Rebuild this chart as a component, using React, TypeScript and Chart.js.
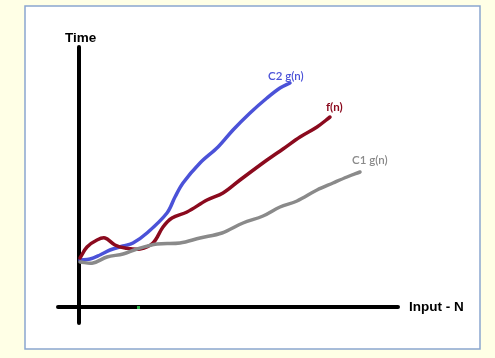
import React, { useEffect, useRef } from "react";
import { Chart, registerables } from "chart.js";

Chart.register(...registerables);

// Values are in chart units measured from the origin (where the axes cross)
const c2gX = [1, 11, 21, 31, 44, 54, 68, 88, 96, 104, 121, 139, 154, 171, 188, 201, 211];
const c2gY = [47, 48, 52, 57, 61, 64, 74, 94, 110, 124, 144, 160, 177, 194, 209, 219, 224];

const fX = [1, 8, 18, 26, 36, 46, 61, 74, 84, 93, 108, 128, 144, 161, 188, 204, 221, 238, 251];
const fY = [49, 60, 67, 69, 62, 59, 58, 64, 80, 89, 95, 107, 114, 127, 147, 158, 170, 180, 190];

const c1gX = [1, 14, 28, 44, 58, 78, 101, 121, 143, 164, 184, 201, 218, 238, 254, 268, 281];
const c1gY = [45, 44, 50, 53, 58, 63, 64, 69, 74, 84, 91, 100, 106, 117, 124, 130, 135];

const seriesNames = ["C2 g(n)", "f(n)", "C1 g(n)"];
const seriesColors = ["#4b52d8", "#8b0a1e", "#8a8a8a"];
const seriesBold = [false, true, false];
// label anchor points (chart units)
const labelX = [189, 247, 273];
const labelY = [231, 200, 147];

const axisTitleX = "Input - N";
const axisTitleY = "Time";
const xAxisExtent = [-21, 319];
const yAxisExtent = [-16, 260];

const W = 495;
const H = 358;

export default function App() {
  const ref = useRef<HTMLCanvasElement | null>(null);

  useEffect(() => {
    const canvas = ref.current;
    if (!canvas) return;

    const toPts = (xs: number[], ys: number[]) => xs.map((x, i) => ({ x, y: ys[i] }));

    const framePlugin = {
      id: "frame",
      beforeDraw(chart: any) {
        const ctx = chart.ctx;
        ctx.save();
        ctx.fillStyle = "#ffffe6";
        ctx.fillRect(0, 0, W, H);
        ctx.fillStyle = "#ffffff";
        ctx.fillRect(25, 6, 455, 343);
        ctx.strokeStyle = "#8aa6cf";
        ctx.lineWidth = 1.5;
        ctx.strokeRect(25, 6, 455, 343);

        const xs = chart.scales.x;
        const ys = chart.scales.y;
        const ox = xs.getPixelForValue(0);
        const oy = ys.getPixelForValue(0);
        ctx.strokeStyle = "#000000";
        ctx.lineWidth = 4;
        ctx.lineCap = "round";
        ctx.beginPath();
        ctx.moveTo(xs.getPixelForValue(xAxisExtent[0]), oy);
        ctx.lineTo(xs.getPixelForValue(xAxisExtent[1]), oy);
        ctx.moveTo(ox, ys.getPixelForValue(yAxisExtent[0]));
        ctx.lineTo(ox, ys.getPixelForValue(yAxisExtent[1]));
        ctx.stroke();
        // small green mark on x axis
        ctx.fillStyle = "#2db34a";
        ctx.fillRect(xs.getPixelForValue(59) - 1, oy - 1, 3, 3);

        ctx.fillStyle = "#000000";
        ctx.font = "bold 13.5px 'Liberation Sans', Arial, sans-serif";
        ctx.textBaseline = "middle";
        ctx.textAlign = "left";
        ctx.fillText(axisTitleY, xs.getPixelForValue(-14), ys.getPixelForValue(269));
        ctx.fillText(axisTitleX, xs.getPixelForValue(330), oy);
        ctx.restore();
      },
      afterDatasetsDraw(chart: any) {
        const ctx = chart.ctx;
        const xs = chart.scales.x;
        const ys = chart.scales.y;
        ctx.save();
        ctx.textBaseline = "middle";
        ctx.textAlign = "left";
        seriesNames.forEach((n, i) => {
          ctx.font = (seriesBold[i] ? "bold " : "600 ") + "11.5px Lato, 'Open Sans', sans-serif";
          ctx.fillStyle = seriesColors[i];
          ctx.fillText(n, xs.getPixelForValue(labelX[i]), ys.getPixelForValue(labelY[i]));
        });
        ctx.restore();
      },
    };

    const ds = (xs: number[], ys: number[], i: number) => ({
      label: seriesNames[i],
      data: toPts(xs, ys),
      borderColor: seriesColors[i],
      borderWidth: 3.5,
      pointRadius: 0,
      tension: 0.35,
      fill: false,
      borderCapStyle: "round" as const,
      borderJoinStyle: "round" as const,
    });

    const chart = new Chart(canvas, {
      type: "line",
      data: {
        datasets: [ds(c1gX, c1gY, 2), ds(fX, fY, 1), ds(c2gX, c2gY, 0)],
      },
      options: {
        animation: false,
        responsive: false,
        maintainAspectRatio: false,
        layout: { padding: 0 },
        plugins: { legend: { display: false }, tooltip: { enabled: false } },
        scales: {
          x: { type: "linear", min: -79, max: 416, display: false },
          y: { type: "linear", min: -51, max: 307, display: false },
        },
      },
      plugins: [framePlugin],
    });
    return () => chart.destroy();
  }, []);

  return (
    <div style={{ position: "fixed", left: 0, top: 0, width: W, height: H }}>
      <canvas ref={ref} width={W} height={H} style={{ display: "block", width: W, height: H }} />
    </div>
  );
}
